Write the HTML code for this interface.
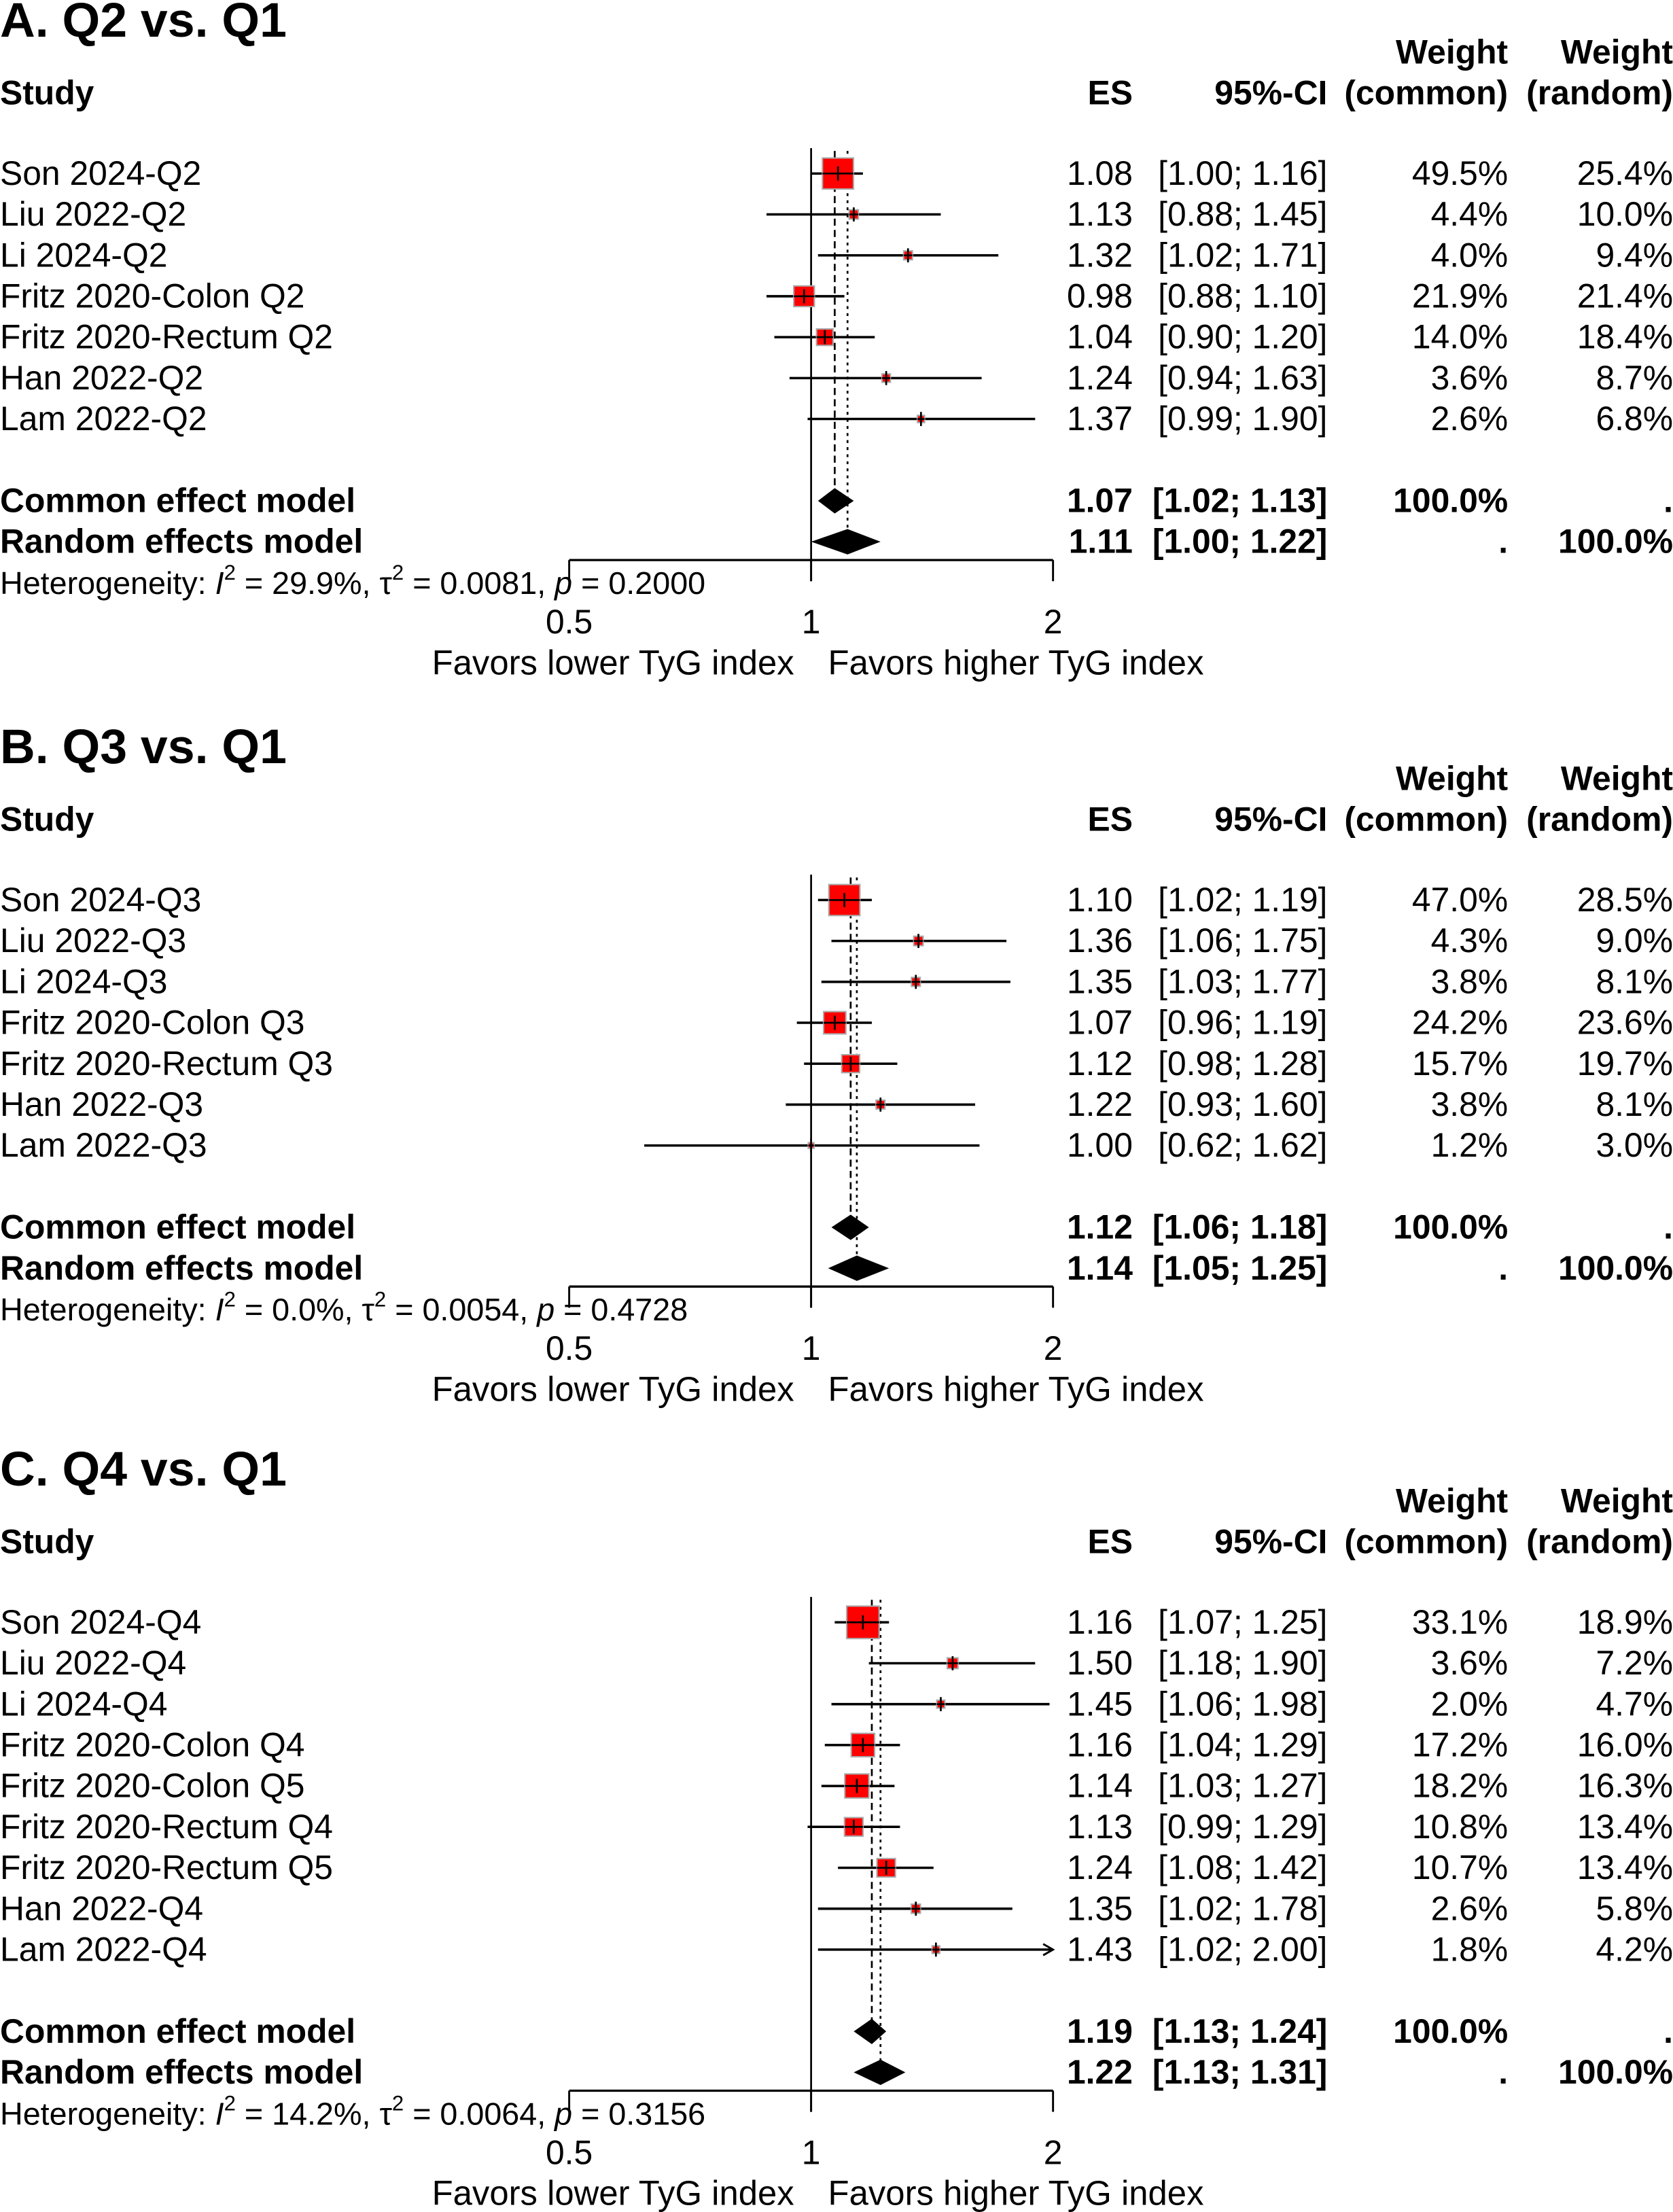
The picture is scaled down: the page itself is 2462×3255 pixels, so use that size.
<!DOCTYPE html>
<html><head><meta charset="utf-8"><style>
html,body{margin:0;padding:0;background:#fff}
svg{display:block}
text{font-family:"Liberation Sans",Arial,sans-serif;fill:#000}
</style></head><body>
<svg id="chart" xmlns="http://www.w3.org/2000/svg" width="2462" height="3255" viewBox="0 0 1186 1568" preserveAspectRatio="none"></svg>
<script>
// ---- Panel A data ----
const titlesA = "A. Q2 vs. Q1";
const studiesA = ["Son 2024-Q2","Liu 2022-Q2","Li 2024-Q2","Fritz 2020-Colon Q2","Fritz 2020-Rectum Q2","Han 2022-Q2","Lam 2022-Q2"];
const esA = [1.08,1.13,1.32,0.98,1.04,1.24,1.37];
const loA = [1.00,0.88,1.02,0.88,0.90,0.94,0.99];
const hiA = [1.16,1.45,1.71,1.10,1.20,1.63,1.90];
const wcA = [49.5,4.4,4.0,21.9,14.0,3.6,2.6];
const wrA = [25.4,10.0,9.4,21.4,18.4,8.7,6.8];
const pooledA = [[1.07,1.02,1.13],[1.11,1.00,1.22]];
const hetA = ["29.9%","0.0081","0.2000"];
// ---- Panel B data ----
const titlesB = "B. Q3 vs. Q1";
const studiesB = ["Son 2024-Q3","Liu 2022-Q3","Li 2024-Q3","Fritz 2020-Colon Q3","Fritz 2020-Rectum Q3","Han 2022-Q3","Lam 2022-Q3"];
const esB = [1.10,1.36,1.35,1.07,1.12,1.22,1.00];
const loB = [1.02,1.06,1.03,0.96,0.98,0.93,0.62];
const hiB = [1.19,1.75,1.77,1.19,1.28,1.60,1.62];
const wcB = [47.0,4.3,3.8,24.2,15.7,3.8,1.2];
const wrB = [28.5,9.0,8.1,23.6,19.7,8.1,3.0];
const pooledB = [[1.12,1.06,1.18],[1.14,1.05,1.25]];
const hetB = ["0.0%","0.0054","0.4728"];
// ---- Panel C data ----
const titlesC = "C. Q4 vs. Q1";
const studiesC = ["Son 2024-Q4","Liu 2022-Q4","Li 2024-Q4","Fritz 2020-Colon Q4","Fritz 2020-Colon Q5","Fritz 2020-Rectum Q4","Fritz 2020-Rectum Q5","Han 2022-Q4","Lam 2022-Q4"];
const esC = [1.16,1.50,1.45,1.16,1.14,1.13,1.24,1.35,1.43];
const loC = [1.07,1.18,1.06,1.04,1.03,0.99,1.08,1.02,1.02];
const hiC = [1.25,1.90,1.98,1.29,1.27,1.29,1.42,1.78,2.00];
const wcC = [33.1,3.6,2.0,17.2,18.2,10.8,10.7,2.6,1.8];
const wrC = [18.9,7.2,4.7,16.0,16.3,13.4,13.4,5.8,4.2];
const pooledC = [[1.19,1.13,1.24],[1.22,1.13,1.31]];
const hetC = ["14.2%","0.0064","0.3156"];
const ticks = [0.5,1,2];

const svg = document.getElementById('chart');
const NS = "http://www.w3.org/2000/svg";
function mk(tag, attrs, parent){const e=document.createElementNS(NS,tag);for(const k in attrs)e.setAttribute(k,attrs[k]);(parent||svg).appendChild(e);return e;}
function txt(s,x,y,o,parent){const e=mk('text',Object.assign({x:x,y:y,'font-size':24},o||{}),parent);e.textContent=s;return e;}
const X = v => 575 + Math.log2(v)*171.5;
const f2 = v => v.toFixed(2);

function panel(key, top, title, studies, es, lo, hi, wc, wr, pooled, het){
  const g = mk('g',{});
  
  
  let t=txt(title,0,top+26,{'font-size':34.5,'font-weight':'bold'},g);
   
  const hb={'font-weight':'bold'};
  txt('Weight',1069,top+45,Object.assign({'text-anchor':'end'},hb),g);
  txt('Weight',1186,top+45,Object.assign({'text-anchor':'end'},hb),g);
  const hdr=[['Study',0,'start'],['ES',803,'end'],['95%-CI',941,'end'],['(common)',1069,'end'],['(random)',1186,'end']];
  hdr.forEach(h=>{const e=txt(h[0],h[1],top+74,Object.assign({'text-anchor':h[2]},hb),g);
     });
  const row0 = top+123, n=studies.length;
  const commonY = row0 + (n-1)*29 + 58, randomY = commonY+29, axisY = commonY+42;
  const nl=mk('line',{x1:X(1),x2:X(1),y1:row0-18,y2:axisY+15,stroke:'#000','stroke-width':1.3},g);
   
  const cl=mk('line',{x1:X(pooled[0][0]),x2:X(pooled[0][0]),y1:row0-16,y2:commonY-8,stroke:'#000','stroke-width':1.3,'stroke-dasharray':'5,3'},g);
   
  const rl=mk('line',{x1:X(pooled[1][0]),x2:X(pooled[1][0]),y1:row0-16,y2:randomY-8,stroke:'#000','stroke-width':1.3,'stroke-dasharray':'2,3'},g);
   
  const maxW = Math.max.apply(null,wc);
  const boxMax = key==='c'?23:22;
  for(let i=0;i<n;i++){
    const y=row0+i*29;
    const l=txt(studies[i],0,y+8,{},g);
     
    const hiC = Math.min(hi[i],2);
    const ci=mk('line',{x1:X(lo[i]),x2:X(hiC),y1:y,y2:y,stroke:'#000','stroke-width':1.7},g);
     
    if(hi[i]>=2){const a=mk('path',{d:`M${X(2)-7},${y-4} L${X(2)},${y} L${X(2)-7},${y+4}`,fill:'none',stroke:'#000','stroke-width':1.4},g);
       }
    const s=Math.max(boxMax*Math.sqrt(wc[i]/maxW),4);
    const b=mk('rect',{x:X(es[i])-s/2,y:y-s/2,width:s,height:s,fill:'#f00',stroke:'#aaa','stroke-width':1},g);
     
    mk('line',{x1:X(es[i]),x2:X(es[i]),y1:y-5,y2:y+5,stroke:'#000','stroke-width':1.3},g);
    mk('line',{x1:X(es[i])-s/2,x2:X(es[i])+s/2,y1:y,y2:y,stroke:'#000','stroke-width':1.3},g);
    txt(f2(es[i]),803,y+8,{'text-anchor':'end'},g);
    txt('['+f2(lo[i])+'; '+f2(hi[i])+']',941,y+8,{'text-anchor':'end'},g);
    txt(wc[i].toFixed(1)+'%',1069,y+8,{'text-anchor':'end'},g);
    txt(wr[i].toFixed(1)+'%',1186,y+8,{'text-anchor':'end'},g);
  }
  const names=['Common effect model','Random effects model'];
  [commonY,randomY].forEach((y,k)=>{
    const p=pooled[k];
    const l=txt(names[k],0,y+8,hb,g);
     
    const d=mk('polygon',{points:`${X(p[1])},${y} ${X(p[0])},${y-9} ${X(p[2])},${y} ${X(p[0])},${y+9}`,fill:'#000'},g);
     
    txt(f2(p[0]),803,y+8,Object.assign({'text-anchor':'end'},hb),g);
    txt('['+f2(p[1])+'; '+f2(p[2])+']',941,y+8,Object.assign({'text-anchor':'end'},hb),g);
    txt(k?'.':'100.0%',1069,y+8,Object.assign({'text-anchor':'end'},hb),g);
    txt(k?'100.0%':'.',1186,y+8,Object.assign({'text-anchor':'end'},hb),g);
  });
  const ax=mk('line',{x1:X(0.5),x2:X(2),y1:axisY,y2:axisY,stroke:'#000','stroke-width':1.6},g);
   
  ticks.forEach(v=>{
    mk('line',{x1:X(v),x2:X(v),y1:axisY,y2:axisY+15,stroke:'#000','stroke-width':1.4},g);
    const tl=txt(String(v),X(v),axisY+52,{'text-anchor':'middle'},g);
     
  });
  const h=mk('text',{x:0,y:axisY+24,'font-size':22.5},g);
   
  h.innerHTML=`Heterogeneity: <tspan font-style="italic">I</tspan><tspan dy="-10" font-size="15">2</tspan><tspan dy="10"> = ${het[0]}, τ</tspan><tspan dy="-10" font-size="15">2</tspan><tspan dy="10"> = ${het[1]}, </tspan><tspan font-style="italic">p</tspan> = ${het[2]}`;
  const fl=txt('Favors lower TyG index',563,axisY+81,{'text-anchor':'end','font-size':24.5},g);
   
  const fh=txt('Favors higher TyG index',587,axisY+81,{'font-size':24.5},g);
   
}
panel('a',0,titlesA,studiesA,esA,loA,hiA,wcA,wrA,pooledA,hetA);
panel('b',515,titlesB,studiesB,esB,loB,hiB,wcB,wrB,pooledB,hetB);
panel('c',1027,titlesC,studiesC,esC,loC,hiC,wcC,wrC,pooledC,hetC);
</script>
</body></html>
